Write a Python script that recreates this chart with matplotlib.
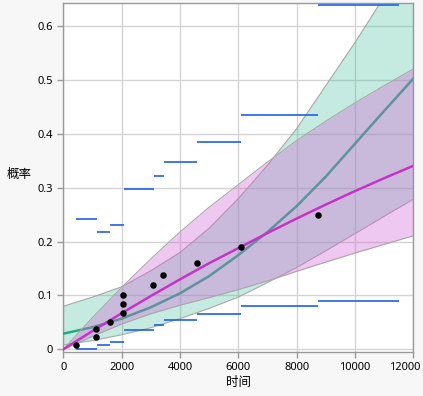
import matplotlib
matplotlib.use("Agg")
import matplotlib.pyplot as plt
import matplotlib.transforms as mtransforms
from matplotlib.ticker import FuncFormatter

plt.rcParams['font.family'] = ['Noto Sans', 'Noto Sans CJK SC', 'DejaVu Sans']

# grid of times for the fitted curves and their confidence bands
t_grid = [0, 1000, 2000, 3000, 4000, 5000, 6000, 7000, 8000, 9000, 10000, 11000, 12000]

# teal fit (curve + band)
teal_fit = [0.029, 0.041, 0.057, 0.078, 0.104, 0.136, 0.175, 0.218, 0.266, 0.321, 0.382, 0.443, 0.503]
teal_lo = [0.008, 0.016, 0.027, 0.040, 0.057, 0.076, 0.097, 0.124, 0.152, 0.183, 0.215, 0.247, 0.279]
teal_hi = [0.080, 0.097, 0.116, 0.146, 0.180, 0.225, 0.280, 0.342, 0.410, 0.490, 0.570, 0.655, 0.750]

# magenta fit (curve + band)
mag_fit = [0.0, 0.034, 0.067, 0.099, 0.130, 0.160, 0.188, 0.216, 0.243, 0.269, 0.294, 0.318, 0.341]
mag_lo = [0.0, 0.024, 0.047, 0.066, 0.082, 0.096, 0.111, 0.127, 0.145, 0.162, 0.179, 0.195, 0.211]
mag_hi = [0.0, 0.059, 0.115, 0.168, 0.218, 0.264, 0.306, 0.348, 0.388, 0.424, 0.458, 0.490, 0.521]

# observed points
t_pts = [440, 1130, 1130, 1590, 2060, 2060, 2060, 3090, 3430, 4590, 6100, 8740]
p_pts = [0.008, 0.037, 0.022, 0.051, 0.067, 0.084, 0.101, 0.1195, 0.139, 0.161, 0.190, 0.249]

# nonparametric interval steps
step_edges = [450, 1140, 1600, 2070, 3100, 3450, 4600, 6100, 8750, 11500]
step_lo = [0.0, 0.0074, 0.013, 0.036, 0.0446, 0.054, 0.065, 0.080, 0.0898]
step_hi = [0.2416, 0.2175, 0.231, 0.297, 0.3216, 0.3476, 0.385, 0.435, 0.639]

fig = plt.figure(figsize=(4.23, 3.96), dpi=100, facecolor='#f7f7f7')
ax = fig.add_axes([0.1497, 0.1119, 0.977 - 0.1497, 0.9932 - 0.1119])
ax.set_facecolor('white')

ax.fill_between(t_grid, teal_lo, teal_hi, color='#41bc98', alpha=0.3, lw=0, zorder=2)
ax.plot(t_grid, teal_lo, color='#a8a8a8', lw=0.8, zorder=2)
ax.plot(t_grid, teal_hi, color='#a8a8a8', lw=0.8, zorder=2)
ax.plot(t_grid, teal_fit, color='#1fae82', lw=1.8, zorder=3)

ax.fill_between(t_grid, mag_lo, mag_hi, color='#d162d4', alpha=0.35, lw=0, zorder=4)
ax.plot(t_grid, mag_lo, color='#a8a8a8', lw=0.8, zorder=4)
ax.plot(t_grid, mag_hi, color='#a8a8a8', lw=0.8, zorder=4)
ax.plot(t_grid, mag_fit, color='#c832c8', lw=1.8, zorder=5)

ax.hlines(step_lo, step_edges[:-1], step_edges[1:], color='#1e60f0', lw=1.2, zorder=6)
ax.hlines(step_hi, step_edges[:-1], step_edges[1:], color='#1e60f0', lw=1.2, zorder=6)

ax.scatter(t_pts, p_pts, s=22, color='black', zorder=7, linewidths=0)

ax.set_xlim(0, 12000)
ax.set_ylim(-0.00446, 0.6442)
ax.set_xticks(range(0, 12001, 2000))
ax.set_yticks([0, 0.1, 0.2, 0.3, 0.4, 0.5, 0.6])
ax.yaxis.set_major_formatter(FuncFormatter(lambda v, p: '0' if abs(v) < 1e-9 else f'{v:.1f}'))
ax.grid(True, color='#d4d4d4', lw=1)
ax.set_axisbelow(True)
for s in ax.spines.values():
    s.set_color('#9a9a9a')
    s.set_linewidth(1)
ax.tick_params(colors='#9a9a9a', labelcolor='black', labelsize=8, length=4, width=1)

# last x label is pushed left so it stays inside the picture
last = ax.xaxis.get_major_ticks()[-1].label1
last.set_transform(last.get_transform() + mtransforms.ScaledTranslation(-0.09, 0, fig.dpi_scale_trans))

ax.set_xlabel('时间', fontsize=9, labelpad=2)
ax.set_ylabel('概率', fontsize=9, rotation=0, labelpad=0)
ax.yaxis.set_label_coords(-0.125, 0.49)

fig.savefig('out.png', dpi=100, facecolor=fig.get_facecolor())
